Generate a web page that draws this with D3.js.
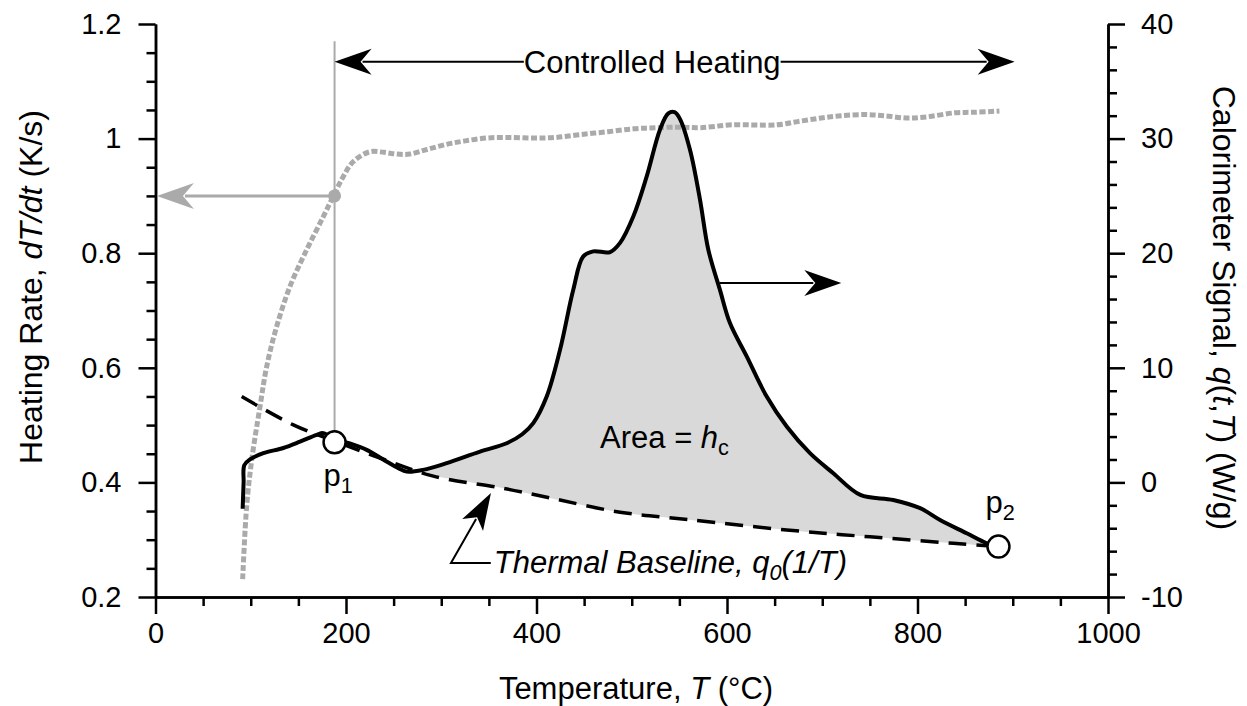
<!DOCTYPE html>
<html><head><meta charset="utf-8">
<script src="https://cdn.jsdelivr.net/npm/d3@7"></script>
<style>
body{margin:0;background:#fff;}
text{font-family:"Liberation Sans",Arial,Helvetica,sans-serif;fill:#000;}
</style></head><body>
<svg id="c" width="1247" height="706"></svg>
<script>
// ---------- data ----------
const xTicks=[0,200,400,600,800,1000];
const xTickLabels=["0","200","400","600","800","1000"];
const leftTicks=[0.2,0.4,0.6,0.8,1.0,1.2];
const leftTickLabels=["0.2","0.4","0.6","0.8","1","1.2"];
const rightTicks=[-10,0,10,20,30,40];
const rightTickLabels=["-10","0","10","20","30","40"];

// heating rate dT/dt (K/s), left axis
const rateT=[91.5,95.7,101,109.7,116.7,127.2,141.2,158.7,176.2,187.7,197.2,207.7,225,240,253,267,285,305.7,325,347.7,370,396.6,420,445.7,475,501.6,525,550.7,571.6,605,652,675,699,720,745.6,765,788,810,839,860,886];
const rateV=[0.231,0.358,0.439,0.532,0.602,0.672,0.742,0.806,0.864,0.903,0.934,0.960,0.977,0.976,0.973,0.973,0.981,0.990,0.996,1.001,1.002,1.001,1.002,1.007,1.012,1.017,1.019,1.020,1.019,1.024,1.024,1.030,1.036,1.040,1.042,1.040,1.036,1.038,1.045,1.046,1.048];

// calorimeter signal q(t,T) (W/g), right axis
const sigT=[91.5,92.5,93.2,99.2,113.2,134.2,151.7,169.2,176.2,188,204,221.7,239,255,263.7,281,305.7,340.7,368.7,385,396.6,410.7,424.7,438.6,449.1,459.6,477.2,487.7,501.6,515.7,529.7,538.4,545,550.7,561.2,571.6,580.4,592.6,603.1,620.7,641.7,662.7,687.1,711.6,740,774.6,802.7,823.7,851.7,872.7,884.8];
const sigV=[-2.3,0,1.5,2.0,2.55,3.0,3.55,4.15,4.3,3.8,3.4,2.84,2.0,1.24,0.94,1.09,1.68,2.69,3.42,4.2,5.17,7.49,11.57,16.81,19.72,20.16,20.1,20.9,23.2,26.7,30.8,32.2,32.3,31.7,29.0,24.7,20.3,16.8,13.9,10.99,7.49,4.87,2.55,0.80,-1.09,-1.53,-2.25,-3.28,-4.44,-5.31,-5.61];

// thermal baseline q0(1/T), right axis
const baseT=[90.5,144.7,188,240,291.7,365,420,487.7,560,662.7,750,837.6,885];
const baseV=[7.49,5.02,3.6,2.0,0.55,-0.51,-1.46,-2.6,-3.25,-4.15,-4.75,-5.31,-5.6];

const p1={T:188,q:3.5,label:"p",sub:"1"};
const p2={T:885,q:-5.6,label:"p",sub:"2"};

// ---------- layout ----------
const svg=d3.select("#c");
const X0=155.5,X1=1108,Y0=597,Y1=24;
const x=d3.scaleLinear().domain([0,1000]).range([X0,X1]);
const yL=d3.scaleLinear().domain([0.2,1.2]).range([Y0,Y1]);
const yR=d3.scaleLinear().domain([-10,40]).range([Y0,Y1]);
const FS_TICK=29, FS_TITLE=32, FS_ANN=31;
const FONT='"Liberation Sans",Arial,Helvetica,sans-serif';

// ---------- fill area between signal and baseline ----------
const curve=d3.curveCatmullRom.alpha(0.5);
const sigPts=sigT.map((t,i)=>[x(t),yR(sigV[i])]);
const basePts=baseT.map((t,i)=>[x(t),yR(baseV[i])]);
const startT=281;
const sigSeg=sigPts.filter((p,i)=>sigT[i]>=startT);
const baseSeg=basePts.filter((p,i)=>baseT[i]>startT).reverse();
const lineGen=d3.line().curve(curve);
const pathA=lineGen(sigSeg);
const pathB=lineGen(baseSeg).replace(/^M/,"L");
svg.append("path").attr("d",pathA+pathB+"Z").attr("fill","#d9d9d9").attr("stroke","none");

// ---------- axes ----------
function styleAxis(g){
  g.selectAll("path.domain").attr("stroke","#000").attr("stroke-width",2.5);
  g.selectAll(".tick line").attr("stroke","#000").attr("stroke-width",2.5);
  g.selectAll(".tick text").style("font-size",FS_TICK+"px").style("font-family",FONT).attr("fill","#000");
}
const xMinor=d3.range(0,1001,50).filter(v=>v%200!==0);
const lMinor=d3.range(0.2,1.2001,0.05).filter(v=>Math.abs(v*5-Math.round(v*5))>1e-6);
const rMinor=d3.range(-10,40.001,2).filter(v=>v%10!==0);

svg.append("g").attr("transform",`translate(0,${Y0})`)
 .call(d3.axisBottom(x).tickValues(xMinor).tickSize(9).tickSizeOuter(0).tickFormat(""))
 .call(styleAxis);
svg.append("g").attr("transform",`translate(0,${Y0})`)
 .call(d3.axisBottom(x).tickValues(xTicks).tickSize(17).tickSizeOuter(0).tickPadding(8)
   .tickFormat((d,i)=>xTickLabels[i]))
 .call(styleAxis);
svg.append("g").attr("transform",`translate(${X0},0)`)
 .call(d3.axisLeft(yL).tickValues(lMinor).tickSize(9).tickSizeOuter(0).tickFormat(""))
 .call(styleAxis);
svg.append("g").attr("transform",`translate(${X0},0)`)
 .call(d3.axisLeft(yL).tickValues(leftTicks).tickSize(17).tickSizeOuter(0).tickPadding(17)
   .tickFormat((d,i)=>leftTickLabels[i]))
 .call(styleAxis);
svg.append("g").attr("transform",`translate(${X1},0)`)
 .call(d3.axisRight(yR).tickValues(rMinor).tickSize(9).tickSizeOuter(0).tickFormat(""))
 .call(styleAxis);
svg.append("g").attr("transform",`translate(${X1},0)`)
 .call(d3.axisRight(yR).tickValues(rightTicks).tickSize(17).tickSizeOuter(0).tickPadding(16)
   .tickFormat((d,i)=>rightTickLabels[i]))
 .call(styleAxis);

// axis titles
const xt=svg.append("text").attr("x",636).attr("y",699).attr("text-anchor","middle").style("font-size",FS_ANN+"px");
xt.append("tspan").text("Temperature, ");
xt.append("tspan").style("font-style","italic").text("T");
xt.append("tspan").text(" (°C)");

const lt=svg.append("text").attr("transform","translate(42,287) rotate(-90)").attr("text-anchor","middle").style("font-size",FS_TITLE+"px");
lt.append("tspan").text("Heating Rate, ");
lt.append("tspan").style("font-style","italic").text("dT/dt");
lt.append("tspan").text(" (K/s)");

const rt=svg.append("text").attr("transform","translate(1213,308) rotate(90)").attr("text-anchor","middle").style("font-size",FS_TITLE+"px");
rt.append("tspan").text("Calorimeter Signal, ");
rt.append("tspan").style("font-style","italic").text("q");
rt.append("tspan").text("(");
rt.append("tspan").style("font-style","italic").text("t");
rt.append("tspan").text(",");
rt.append("tspan").style("font-style","italic").text("T");
rt.append("tspan").text(") (W/g)");

// ---------- arrowhead helper ----------
function arrowHead(tx,ty,angle,color,L=37,W=13,N=11){
  const pts=[[0,0],[-L,-W],[-L+N,0],[-L,W]];
  const c=Math.cos(angle),s=Math.sin(angle);
  const tp=pts.map(([px,py])=>[tx+px*c-py*s,ty+px*s+py*c]);
  svg.append("path").attr("d","M"+tp.map(p=>p.join(",")).join("L")+"Z").attr("fill",color).attr("stroke","none");
}

// ---------- vertical reference line at p1 ----------
svg.append("line").attr("x1",x(p1.T)).attr("x2",x(p1.T)).attr("y1",yL(1.17)).attr("y2",yR(p1.q)-11)
  .attr("stroke","#aaaaaa").attr("stroke-width",2);

// ---------- heating-rate curve ----------
svg.append("path").datum(rateT.map((t,i)=>[x(t),yL(rateV[i])]))
  .attr("d",d3.line().curve(curve)).attr("fill","none").attr("stroke","#aaaaaa")
  .attr("stroke-width",5).attr("stroke-dasharray","6,2.5");

// gray arrow to left axis
const gy=yL(0.9);
svg.append("line").attr("x1",x(p1.T)).attr("x2",x(1.5)+28).attr("y1",gy).attr("y2",gy)
  .attr("stroke","#aaaaaa").attr("stroke-width",3);
arrowHead(x(1.5),gy,Math.PI,"#aaaaaa");
svg.append("circle").attr("cx",x(p1.T)).attr("cy",gy).attr("r",6.5).attr("fill","#aaaaaa");

// ---------- baseline dashed ----------
svg.append("path").datum(basePts).attr("d",d3.line().curve(curve)).attr("fill","none")
  .attr("stroke","#000").attr("stroke-width",3.5).attr("stroke-dasharray","18,10");

// ---------- signal ----------
svg.append("path").datum(sigPts).attr("d",d3.line().curve(curve)).attr("fill","none")
  .attr("stroke","#000").attr("stroke-width",4).attr("stroke-linejoin","round");

// ---------- Controlled Heating arrow ----------
const chY=yL(1.134);
svg.append("line").attr("x1",x(p1.T)+28).attr("x2",x(902)-28).attr("y1",chY).attr("y2",chY)
  .attr("stroke","#000").attr("stroke-width",2);
arrowHead(x(p1.T),chY,Math.PI,"#000");
arrowHead(x(902),chY,0,"#000");
const chT=svg.append("text").attr("x",x(521.5)).attr("y",chY+11).attr("text-anchor","middle")
  .style("font-size",FS_ANN+"px").text("Controlled Heating");
const bb=chT.node().getBBox();
svg.insert("rect",()=>chT.node()).attr("x",bb.x).attr("y",bb.y+3).attr("width",bb.width).attr("height",bb.height-6).attr("fill","#fff");

// ---------- right-pointing arrow to right axis ----------
const raY=yR(17.4);
svg.append("line").attr("x1",x(592)).attr("x2",x(720)-28).attr("y1",raY).attr("y2",raY)
  .attr("stroke","#000").attr("stroke-width",2);
arrowHead(x(720),raY,0,"#000");

// ---------- Area label ----------
const at=svg.append("text").attr("x",x(466.7)).attr("y",yR(3.0)).style("font-size",FS_ANN+"px");
at.append("tspan").text("Area = ");
at.append("tspan").style("font-style","italic").text("h");
at.append("tspan").attr("dy",7).style("font-size",(FS_ANN*0.7)+"px").text("c");

// ---------- Thermal baseline label & leader ----------
const tip=[x(352.2),yR(-0.92)];
const corner=[x(310.2),yR(-7.03)];
const tStart=[x(352),yR(-7.03)];
const ang=Math.atan2(tip[1]-corner[1],tip[0]-corner[0]);
svg.append("path").attr("d",`M${tStart[0]},${tStart[1]}L${corner[0]},${corner[1]}L${tip[0]-30*Math.cos(ang)},${tip[1]-30*Math.sin(ang)}`)
  .attr("fill","none").attr("stroke","#000").attr("stroke-width",2);
arrowHead(tip[0],tip[1],ang,"#000",37,12,9);
const bt=svg.append("text").attr("x",tStart[0]+3).attr("y",tStart[1]+10).style("font-size",FS_ANN+"px").style("font-style","italic");
bt.append("tspan").text("Thermal Baseline, q");
bt.append("tspan").attr("dy",7).style("font-size",(FS_ANN*0.7)+"px").text("0");
bt.append("tspan").attr("dy",-7).text("(1/T)");

// ---------- p1, p2 markers ----------
[p1,p2].forEach(p=>{
  svg.append("circle").attr("cx",x(p.T)).attr("cy",yR(p.q)).attr("r",11)
    .attr("fill","#fff").attr("stroke","#000").attr("stroke-width",2.5);
});
function pLabel(p,lx,ly){
  const t=svg.append("text").attr("x",lx).attr("y",ly).style("font-size",FS_ANN+"px");
  t.append("tspan").text(p.label);
  t.append("tspan").attr("dy",7).style("font-size",(FS_ANN*0.7)+"px").text(p.sub);
}
pLabel(p1,x(p1.T)-11,yR(p1.q)+44);
pLabel(p2,x(p2.T)-13,yR(p2.q)-34);
</script>
</body></html>
